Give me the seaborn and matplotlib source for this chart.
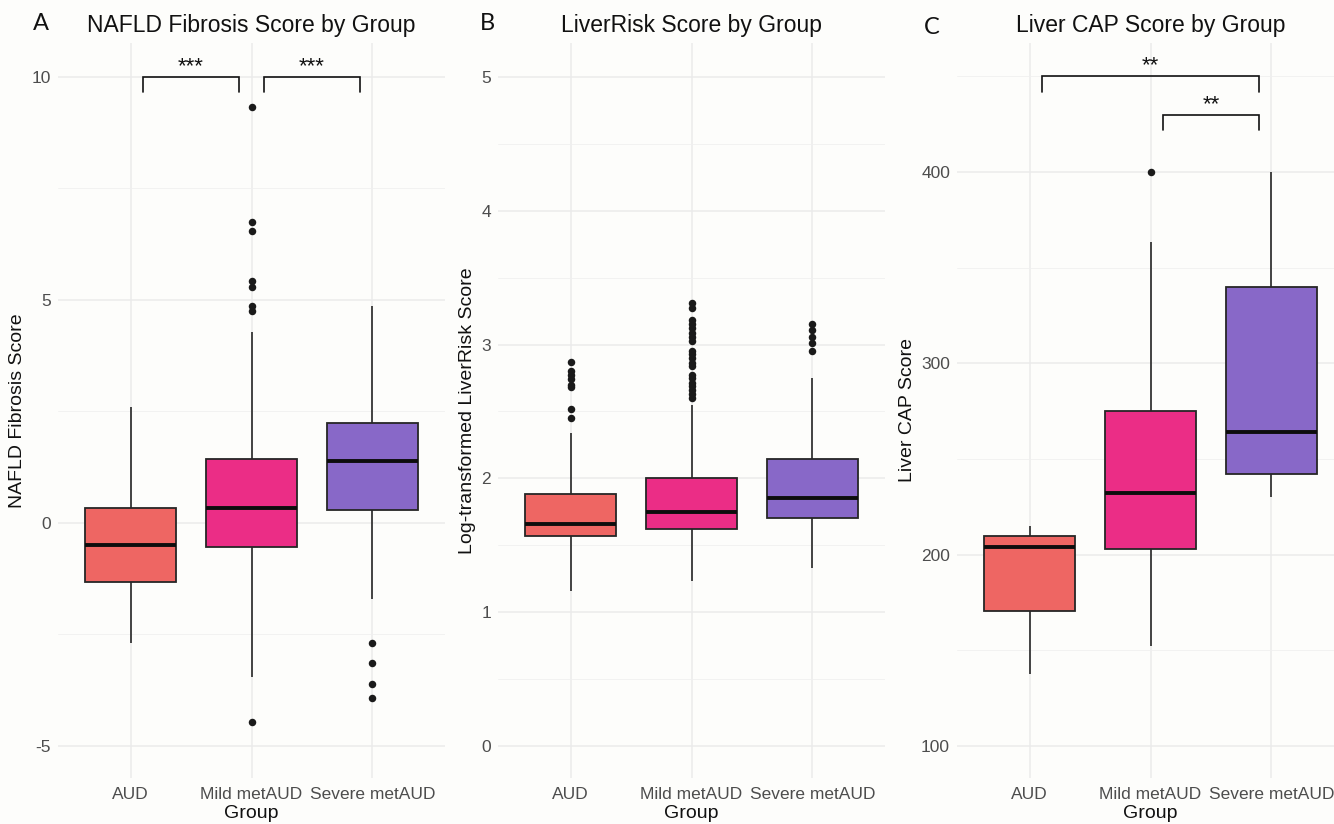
import numpy as np
import pandas as pd
import matplotlib
matplotlib.use("Agg")
import matplotlib.pyplot as plt
import seaborn as sns

# groups and colours
groups = ["AUD", "Mild metAUD", "Severe metAUD"]
colors = ["#EE6663", "#EB2D86", "#8868C8"]

# A: NAFLD fibrosis score (whisker low, q1, median, q3, whisker high)
nfs_lo = [-2.69, -3.45, -1.71]
nfs_q1 = [-1.32, -0.53, 0.29]
nfs_med = [-0.49, 0.33, 1.39]
nfs_q3 = [0.34, 1.43, 2.24]
nfs_hi = [2.60, 4.28, 4.87]
nfs_out_aud = []
nfs_out_mild = [9.33, 6.75, 6.55, 5.43, 5.29, 4.86, 4.74, -4.46]
nfs_out_severe = [-2.69, -3.14, -3.61, -3.92]

# B: log-transformed LiverRisk score
lr_lo = [1.16, 1.23, 1.33]
lr_q1 = [1.57, 1.62, 1.70]
lr_med = [1.66, 1.75, 1.85]
lr_q3 = [1.88, 2.00, 2.145]
lr_hi = [2.34, 2.55, 2.75]
lr_out_aud = [2.87, 2.80, 2.77, 2.74, 2.70, 2.68, 2.52, 2.45]
lr_out_mild = [3.31, 3.27, 3.18, 3.15, 3.12, 3.09, 3.06, 3.03, 2.95, 2.93,
               2.90, 2.86, 2.84, 2.77, 2.75, 2.71, 2.69, 2.66, 2.63, 2.60]
lr_out_severe = [3.15, 3.11, 3.06, 3.01, 2.95]

# C: liver CAP score
cap_lo = [137.6, 152.3, 230.0]
cap_q1 = [170.6, 203.0, 242.0]
cap_med = [204.0, 232.3, 264.0]
cap_q3 = [209.8, 275.1, 340.0]
cap_hi = [215.0, 363.5, 400.0]
cap_out_aud = []
cap_out_mild = [400.0]
cap_out_severe = []

# significance brackets: (group a, group b, bracket height, label)
nfs_sig = [(0, 1, 10.0, "***"), (1, 2, 10.0, "***")]
cap_sig = [(0, 2, 450.0, "**"), (1, 2, 430.0, "**")]


def box_frame(lo, q1, med, q3, hi):
    rows = []
    for i, g in enumerate(groups):
        for v in (lo[i], q1[i], med[i], q3[i], hi[i]):
            rows.append((g, v))
    return pd.DataFrame(rows, columns=["Group", "value"])


def out_frame(*lists):
    rows = []
    for g, vals in zip(groups, lists):
        for v in vals:
            rows.append((g, v))
    return pd.DataFrame(rows, columns=["Group", "value"])


sns.set_theme(style="whitegrid")
plt.rcParams["font.family"] = ["Liberation Sans", "DejaVu Sans"]
plt.rcParams["axes.unicode_minus"] = False

bg = "#fdfdfb"
fig = plt.figure(figsize=(13.34, 8.24), dpi=100, facecolor=bg)

panels = [
    ("A", 58, box_frame(nfs_lo, nfs_q1, nfs_med, nfs_q3, nfs_hi),
     out_frame(nfs_out_aud, nfs_out_mild, nfs_out_severe),
     "NAFLD Fibrosis Score by Group", "NAFLD Fibrosis Score",
     (-5.72, 10.76), [-5, 0, 5, 10], [-2.5, 2.5, 7.5], nfs_sig, 41, 30),
    ("B", 498, box_frame(lr_lo, lr_q1, lr_med, lr_q3, lr_hi),
     out_frame(lr_out_aud, lr_out_mild, lr_out_severe),
     "LiverRisk Score by Group", "Log-transformed LiverRisk Score",
     (-0.24, 5.254), [0, 1, 2, 3, 4, 5], [0.5, 1.5, 2.5, 3.5, 4.5], [], 487, 30),
    ("C", 957, box_frame(cap_lo, cap_q1, cap_med, cap_q3, cap_hi),
     out_frame(cap_out_aud, cap_out_mild, cap_out_severe),
     "Liver CAP Score by Group", "Liver CAP Score",
     (83.3, 467.5), [100, 200, 300, 400], [150, 250, 350, 450], cap_sig, 932, 34),
]

W, H = 1334, 824
for tag, left, box_df, out_df, title, ylab, ylim, yt, ymt, sig, tx, ty in panels:
    ax = fig.add_axes([left / W, 1 - 778 / H, 387 / W, 735 / H])
    ax.set_facecolor(bg)
    sns.boxplot(data=box_df, x="Group", y="value", hue="Group", order=groups,
                hue_order=groups, palette=colors, saturation=1, legend=False,
                ax=ax, width=0.75, whis=(0, 100), showfliers=False,
                showcaps=False, linecolor="#262626", linewidth=1.3,
                medianprops=dict(color="#0d0d0d", linewidth=2.8),
                whiskerprops=dict(color="#262626", linewidth=1.2))
    if len(out_df):
        sns.stripplot(data=out_df, x="Group", y="value", order=groups,
                      jitter=False, color="#1a1a1a", size=5.4, ax=ax,
                      zorder=3)
    ax.set_xlim(-0.6, 2.6)
    ax.set_ylim(*ylim)
    ax.set_yticks(yt)
    ax.set_yticks(ymt, minor=True)
    ax.set_yticklabels([str(v) for v in yt])
    ax.grid(True, which="major", axis="both", color="#ebebeb", linewidth=1.1)
    ax.grid(True, which="minor", axis="y", color="#f0f0f0", linewidth=0.6)
    ax.set_axisbelow(True)
    for s in ax.spines.values():
        s.set_visible(False)
    ax.tick_params(axis="both", which="both", length=0, labelsize=12.5,
                   labelcolor="#4d4d4d")
    ax.tick_params(axis="y", pad=5)
    ax.tick_params(axis="x", pad=6.5)
    ax.set_title(title, fontsize=16.5, pad=8, color="#111111")
    ax.set_xlabel("Group", fontsize=14, labelpad=2.5, color="#111111")
    ax.set_ylabel(ylab, fontsize=14, labelpad=4, color="#111111")

    span = ylim[1] - ylim[0]
    for a, b, yb, lab in sig:
        x0, x1 = a + 0.1, b - 0.1
        tip = yb - 0.021 * span
        ax.plot([x0, x0, x1, x1], [tip, yb, yb, tip], color="#111111",
                linewidth=1.2, solid_joinstyle="miter", zorder=4)
        ax.annotate(lab, xy=((x0 + x1) / 2, yb), xytext=(0, 3.5),
                    textcoords="offset points", ha="center", va="baseline",
                    fontsize=16, color="#111111")

    fig.text(tx / W, 1 - ty / H, tag, ha="center", va="baseline",
             fontsize=17, family=["Lato", "DejaVu Sans"], color="#111111")

fig.savefig("out.png", dpi=100, facecolor=bg)
